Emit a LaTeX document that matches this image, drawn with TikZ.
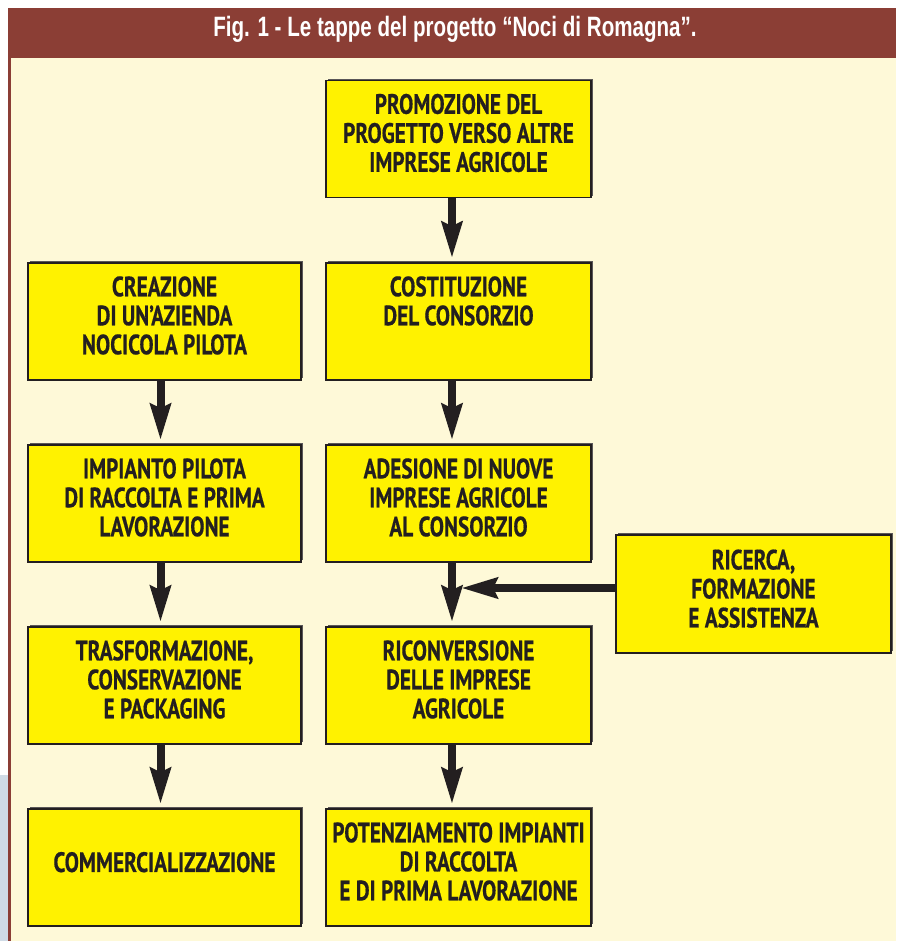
\documentclass[tikz,border=0pt]{standalone}
\usepackage{fontspec}
\usepackage{xcolor}
\usepackage{tikz}
\usetikzlibrary{arrows.meta,shadows}
\setmainfont{PT Sans}
\newfontfamily\boxfont[FakeStretch=0.76,FakeBold=0.5]{PT Sans}
\newfontfamily\headfont[FakeStretch=0.735]{Liberation Sans}
\definecolor{headbrown}{RGB}{139,62,53}
\definecolor{cream}{RGB}{254,249,216}
\definecolor{boxyellow}{RGB}{255,242,0}
\definecolor{inkdark}{RGB}{35,31,32}
\definecolor{sidegray}{RGB}{207,219,230}
\tikzset{
  stepbox/.style={draw=inkdark, line width=1.1pt, fill=boxyellow,
    general shadow={fill=inkdark!75, shadow xshift=1.3pt, shadow yshift=1.3pt},
    minimum height=87.75pt, inner sep=0pt},
  leftbox/.style={stepbox, minimum width=204.75pt},
  rightbox/.style={stepbox, minimum width=198.75pt},
  boxtext/.style={align=center, text=inkdark, inner sep=0pt, yshift=4.5pt,
    font=\boxfont\bfseries\fontsize{21}{21.75}\selectfont},
  twolines/.style={boxtext, yshift=10.9pt},
  flowarrow/.style={draw=inkdark, line width=6pt,
    -{Stealth[length=27pt, width=15pt, inset=3pt]}, shorten >=3pt}
}
\begin{document}
\begin{tikzpicture}[x=0.75pt,y=0.75pt,yscale=-1,xscale=1]
\useasboundingbox (0,0) rectangle (896,941);

%Background
\fill [white] (0,0) rectangle (896,941);
\fill [sidegray] (0,775) rectangle (8,941);
\fill [headbrown] (8,8) rectangle (896,941);
\fill [cream] (11,58) rectangle (896,941);

% Title
\node (title) at (455,29) [text=white, font=\headfont\bfseries\fontsize{21}{24}\selectfont] {Fig. 1 - Le tappe del progetto “Noci di Romagna”.};

% Right column
\node (promo) at (458.5,139) [rightbox, label={[boxtext]center:PROMOZIONE DEL\\PROGETTO VERSO ALTRE\\IMPRESE AGRICOLE}] {};
\node (consorzio) at (458.5,321.5) [rightbox, label={[twolines]center:COSTITUZIONE\\DEL CONSORZIO}] {};
\node (adesione) at (458.5,503.5) [rightbox, label={[boxtext]center:ADESIONE DI NUOVE\\IMPRESE AGRICOLE\\AL CONSORZIO}] {};
\node (riconv) at (458.5,685.5) [rightbox, label={[boxtext]center:RICONVERSIONE\\DELLE IMPRESE\\AGRICOLE}] {};
\node (potenz) at (458.5,867.5) [rightbox, label={[boxtext]center:POTENZIAMENTO IMPIANTI\\DI RACCOLTA\\E DI PRIMA LAVORAZIONE}] {};

% Left column
\node (azienda) at (164.5,321.5) [leftbox, label={[boxtext]center:CREAZIONE\\DI UN’AZIENDA\\NOCICOLA PILOTA}] {};
\node (impianto) at (164.5,503.5) [leftbox, label={[boxtext]center:IMPIANTO PILOTA\\DI RACCOLTA E PRIMA\\LAVORAZIONE}] {};
\node (trasf) at (164.5,685.5) [leftbox, label={[boxtext]center:TRASFORMAZIONE,\\CONSERVAZIONE\\E PACKAGING}] {};
\node (comm) at (164.5,867.5) [leftbox, label={[boxtext, yshift=-0.5pt]center:COMMERCIALIZZAZIONE}] {};

% Side box
\node (ricerca) at (753.5,594) [stepbox, minimum width=206.25pt, minimum height=88.5pt, label={[boxtext, yshift=-0.5pt]center:RICERCA,\\FORMAZIONE\\E ASSISTENZA}] {};
\coordinate (merge) at (461,588);

%Arrows
\draw [flowarrow] ([xshift=-4.9pt]promo.south) -- ([xshift=-4.9pt]consorzio.north);
\draw [flowarrow] ([xshift=-4.9pt]consorzio.south) -- ([xshift=-4.9pt]adesione.north);
\draw [flowarrow] ([xshift=-4.9pt]adesione.south) -- ([xshift=-4.9pt]riconv.north);
\draw [flowarrow] ([xshift=-4.9pt]riconv.south) -- ([xshift=-4.9pt]potenz.north);
\draw [flowarrow] ([xshift=-3pt]azienda.south) -- ([xshift=-3pt]impianto.north);
\draw [flowarrow] ([xshift=-3pt]impianto.south) -- ([xshift=-3pt]trasf.north);
\draw [flowarrow] ([xshift=-3pt]trasf.south) -- ([xshift=-3pt]comm.north);
\draw [flowarrow, shorten >=0pt] (ricerca.west |- merge) -- (merge);

\end{tikzpicture}
\end{document}
